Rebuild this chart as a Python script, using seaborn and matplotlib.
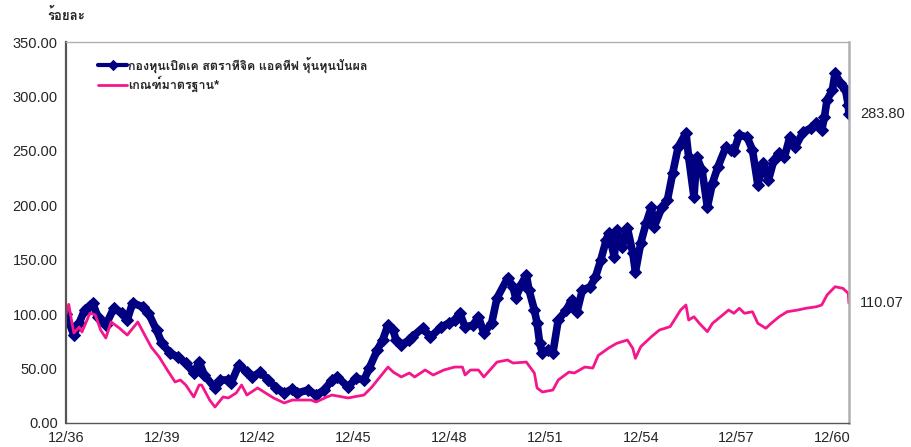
import pandas as pd
import seaborn as sns
import matplotlib
matplotlib.use('Agg')
import matplotlib.pyplot as plt
from matplotlib import font_manager
from matplotlib.ft2font import FT2Font

# ข้อมูลกองทุน (ร้อยละ)
fund_dates = ['1993-12', '1994-03', '1994-05', '1994-07', '1994-10', '1994-12', '1995-03', '1995-06',
              '1995-09', '1995-11', '1996-01', '1996-05', '1996-07', '1996-10', '1996-12', '1997-03',
              '1997-06', '1997-09', '1997-12', '1998-02', '1998-04', '1998-08', '1998-10', '1999-01',
              '1999-02', '1999-05', '1999-08', '1999-10', '2000-01', '2000-04', '2000-07', '2000-10',
              '2001-01', '2001-03', '2001-07', '2001-10', '2002-01', '2002-04', '2002-06', '2002-10',
              '2003-01', '2003-04', '2003-06', '2003-09', '2003-11', '2004-01', '2004-03', '2004-04',
              '2004-06', '2004-09', '2004-10', '2005-02', '2005-05', '2005-09', '2005-12', '2006-02',
              '2006-04', '2006-06', '2006-09', '2006-11', '2007-01', '2007-04', '2007-06', '2007-10',
              '2007-12', '2008-01', '2008-03', '2008-05', '2008-06', '2008-08', '2008-09', '2008-10',
              '2008-11', '2009-01', '2009-03', '2009-05', '2009-08', '2009-10', '2009-12', '2010-02',
              '2010-05', '2010-07', '2010-09', '2010-11', '2010-12', '2011-02', '2011-03', '2011-05',
              '2011-07', '2011-09', '2011-10', '2011-12', '2012-02', '2012-04', '2012-05', '2012-08',
              '2012-10', '2012-12', '2013-02', '2013-05', '2013-06', '2013-08', '2013-09', '2013-11',
              '2014-01', '2014-03', '2014-05', '2014-08', '2014-10', '2014-11', '2015-01', '2015-04',
              '2015-06', '2015-08', '2015-10', '2015-12', '2016-02', '2016-04', '2016-06', '2016-08',
              '2016-10', '2017-01', '2017-04', '2017-06', '2017-08', '2017-09', '2017-10', '2017-12',
              '2018-01', '2018-03', '2018-05', '2018-06-01', '2018-06-08']
fund_vals = [100.0, 80.8, 91.9, 103.8, 110.2, 97.4, 90.0, 105.6,
             101.0, 94.6, 110.2, 106.6, 101.0, 85.4, 73.5, 64.3,
             60.6, 55.1, 45.9, 56.0, 44.1, 32.2, 39.5, 39.5,
             36.7, 53.3, 46.8, 42.3, 46.8, 39.5, 32.2, 27.6,
             31.2, 27.6, 30.3, 25.7, 30.3, 39.5, 42.3, 33.1,
             41.3, 39.5, 50.5, 67.1, 76.2, 90.0, 85.4, 76.2,
             71.7, 76.2, 79.0, 87.3, 79.0, 88.2, 91.9, 94.6,
             101.0, 88.2, 90.0, 97.4, 82.7, 91.9, 114.8, 133.2,
             124.9, 114.8, 126.8, 136.0, 122.2, 103.8, 91.9, 73.5,
             64.3, 67.1, 64.3, 94.6, 103.8, 113.0, 102.0, 122.2,
             124.9, 134.1, 150.0, 168.1, 174.5, 152.5, 177.3, 161.7,
             179.1, 156.2, 138.7, 165.3, 183.7, 198.4, 180.0, 198.4,
             204.8, 229.7, 253.5, 266.4, 244.3, 207.6, 244.3, 232.4,
             198.4, 220.5, 235.2, 253.5, 250.8, 250.0, 264.6, 262.7,
             250.8, 219.0, 238.8, 223.2, 241.6, 248.0, 244.3, 262.7,
             253.5, 267.3, 271.0, 275.6, 269.2, 281.0, 296.7, 305.9,
             321.5, 312.3, 305.9, 292.0, 283.80]

# เกณฑ์มาตรฐาน
bench_dates = ['1993-12', '1994-01', '1994-02', '1994-03', '1994-05', '1994-06', '1994-09', '1994-11',
               '1995-01', '1995-03', '1995-05', '1995-08', '1995-11', '1996-03', '1996-05', '1996-08',
               '1996-11', '1997-02', '1997-05', '1997-07', '1997-09', '1997-12', '1998-02', '1998-03',
               '1998-06', '1998-08', '1998-11', '1999-01', '1999-04', '1999-06', '1999-08', '1999-12',
               '2000-03', '2000-06', '2000-10', '2001-01', '2001-05', '2001-08', '2001-10', '2002-02',
               '2002-04', '2002-10', '2003-04', '2003-07', '2003-10', '2004-01', '2004-03', '2004-06',
               '2004-09', '2004-11', '2005-03', '2005-06', '2005-10', '2006-02', '2006-05', '2006-06',
               '2006-08', '2006-11', '2007-01', '2007-06', '2007-10', '2007-12', '2008-05', '2008-08',
               '2008-09', '2008-11', '2009-03', '2009-05', '2009-09', '2009-11', '2010-03', '2010-06',
               '2010-08', '2010-12', '2011-03', '2011-07', '2011-09', '2011-10', '2011-12', '2012-04',
               '2012-07', '2012-11', '2013-01', '2013-03', '2013-05', '2013-06', '2013-08', '2013-10',
               '2014-01', '2014-03', '2014-06', '2014-09', '2014-11', '2015-01', '2015-03', '2015-06',
               '2015-08', '2015-11', '2016-01', '2016-04', '2016-07', '2016-11', '2017-02', '2017-06',
               '2017-08', '2017-10', '2018-01', '2018-04', '2018-06-01', '2018-06-08']
bench_vals = [100.0, 109.0, 94.6, 82.7, 88.2, 83.6, 101.0, 99.2,
              85.4, 78.1, 92.8, 87.3, 80.8, 92.8, 83.6, 69.8,
              60.6, 48.7, 37.7, 39.5, 34.9, 23.9, 34.9, 34.9,
              21.1, 14.7, 23.9, 23.0, 27.6, 34.9, 25.7, 32.2,
              27.6, 23.0, 18.4, 21.1, 21.1, 21.1, 19.3, 23.9,
              25.7, 23.0, 25.7, 33.1, 42.3, 51.4, 46.8, 42.3,
              45.9, 42.3, 48.7, 44.1, 48.7, 51.4, 51.4, 44.1,
              48.7, 48.7, 42.3, 56.0, 57.9, 55.1, 56.0, 45.9,
              32.2, 28.5, 30.3, 39.5, 46.8, 45.9, 51.4, 50.5,
              62.0, 69.0, 73.2, 76.2, 68.6, 59.4, 70.1, 79.3,
              85.4, 88.5, 96.2, 103.8, 108.4, 94.6, 97.6, 91.6,
              83.9, 91.6, 97.6, 103.8, 100.8, 105.4, 100.8, 102.2,
              91.6, 87.0, 91.6, 97.6, 102.2, 103.8, 105.4, 106.8,
              108.4, 117.6, 125.2, 123.7, 119.1, 110.07]

fund_label = 'กองทุนเปิดเค สตราทีจิค แอคทีฟ หุ้นทุนปันผล'
bench_label = 'เกณฑ์มาตรฐาน*'
tick_dates = ['1993-12', '1996-12', '1999-12', '2002-12', '2005-12', '2008-12', '2011-12', '2014-12', '2017-12']
tick_labels = ['12/36', '12/39', '12/42', '12/45', '12/48', '12/51', '12/54', '12/57', '12/60']
y_ticks = [0, 50, 100, 150, 200, 250, 300, 350]

fund = pd.DataFrame({'date': pd.to_datetime(fund_dates, format='ISO8601'), 'value': fund_vals})
bench = pd.DataFrame({'date': pd.to_datetime(bench_dates, format='ISO8601'), 'value': bench_vals})

sns.set_style('white')

# หาฟอนต์ที่มีอักษรไทย
thai_font = 'DejaVu Sans'
for f in font_manager.fontManager.ttflist:
    try:
        if 0x0E01 in FT2Font(f.fname).get_charmap():
            thai_font = f.name
            break
    except Exception:
        pass
plt.rcParams['font.family'] = ['Liberation Sans', thai_font, 'DejaVu Sans']

fig = plt.figure(figsize=(9.12, 4.47), dpi=100)
ax = fig.add_axes([0.0724, 0.0537, 0.8586, 0.8523])

navy = '#000080'
pink = '#F5168C'
sns.lineplot(data=fund, x='date', y='value', ax=ax, color=navy, linewidth=5.5,
             marker='D', markersize=6.5, markeredgecolor=navy, markerfacecolor=navy,
             label=fund_label)
sns.lineplot(data=bench, x='date', y='value', ax=ax, color=pink, linewidth=2,
             label=bench_label)

ax.set_xlim(pd.Timestamp('1993-12-01'), pd.Timestamp('2018-06-10'))
ax.set_ylim(0, 350)
ax.set_yticks(y_ticks)
ax.set_yticklabels([f'{v:.2f}' for v in y_ticks], fontsize=10.5)
ax.set_xticks(pd.to_datetime(tick_dates))
ax.set_xticklabels(tick_labels, fontsize=10.5)
ax.set_xlabel('')
ax.set_ylabel('')
ax.tick_params(axis='both', length=4, width=1, color='#404040', pad=2)

ax.spines['left'].set_color('#555555')
ax.spines['left'].set_linewidth(1.6)
ax.spines['bottom'].set_color('#555555')
ax.spines['bottom'].set_linewidth(1)
ax.spines['right'].set_color('#B0B0B0')
ax.spines['right'].set_linewidth(1.8)
ax.spines['top'].set_color('#B0B0B0')
ax.spines['top'].set_linewidth(1)

leg = ax.legend(loc='upper left', bbox_to_anchor=(0.035, 0.975), frameon=False,
                fontsize=9, handlelength=2.3, handletextpad=0.1, labelspacing=0.25,
                borderaxespad=0)
for t in leg.get_texts():
    t.set_fontweight('bold')
leg.legend_handles[0].set_linewidth(3)
leg.legend_handles[0].set_markersize(5)

ax.annotate(f'{fund_vals[-1]:.2f}', xy=(1.0, fund_vals[-1]), xycoords=('axes fraction', 'data'),
            xytext=(8, 0), textcoords='offset points', va='center', ha='left', fontsize=10.5)
ax.annotate(f'{bench_vals[-1]:.2f}', xy=(1.0, bench_vals[-1]), xycoords=('axes fraction', 'data'),
            xytext=(8, 0), textcoords='offset points', va='center', ha='left', fontsize=10.5)

fig.text(0.052, 0.965, 'ร้อยละ', fontsize=9.5, fontweight='bold', ha='left', va='center')

fig.savefig('out.png', dpi=100)
